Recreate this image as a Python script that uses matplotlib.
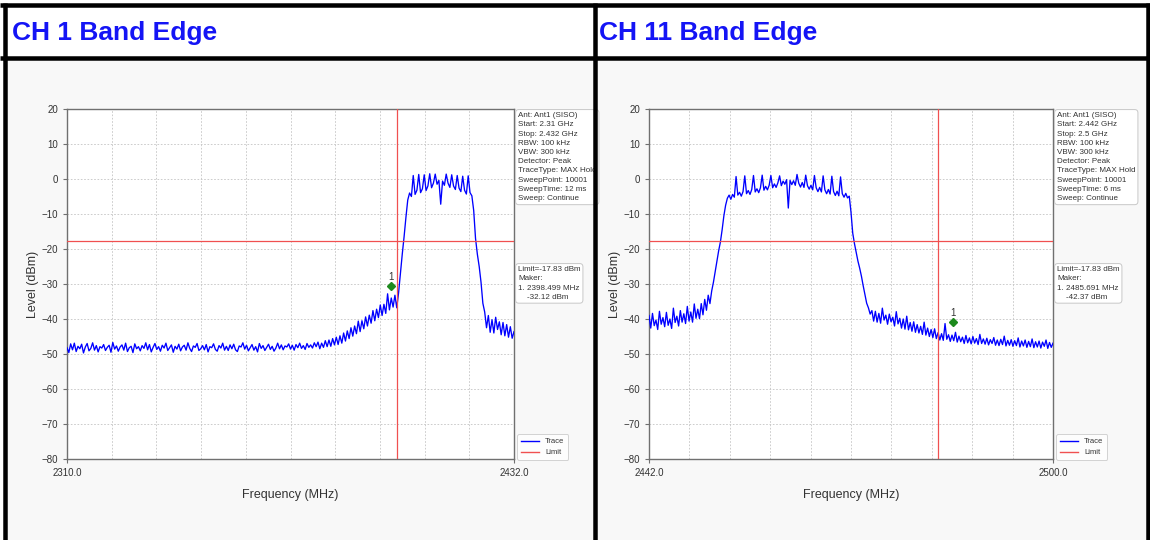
import numpy as np
import matplotlib

matplotlib.use("Agg")
import matplotlib.pyplot as plt
import matplotlib.transforms as mtransforms
from matplotlib.lines import Line2D
from matplotlib.patches import Rectangle

plt.rcParams["font.family"] = ["Liberation Sans", "DejaVu Sans"]

W, H = 1150, 540
BLUE = "#0000ff"
RED = "#f05050"
TXT = "#333333"
GRID = "#c4c4c4"
SPINE = "#707070"

# ---- CH 1 sweep (2310 - 2432 MHz), trace levels in dBm read every 0.5 MHz ----
CH1_START, CH1_STOP = 2310.0, 2432.0
CH1_LEVEL = [
    # noise floor 2310 - 2378
    -48.2, -49.6, -47.1, -48.8, -46.9, -49.3, -47.8, -48.5, -47.2, -49.7,
    -48.0, -47.0, -49.1, -48.4, -46.8, -48.9, -47.6, -49.4, -47.9, -48.3,
    -47.3, -49.0, -48.1, -47.5, -49.5, -46.7, -48.6, -47.7, -49.2, -48.0,
    -47.4, -48.9, -46.9, -49.3, -48.2, -47.8, -49.6, -47.1, -48.5, -47.9,
    -49.1, -47.6, -48.4, -46.8, -48.8, -47.3, -49.4, -48.1, -47.0, -48.7,
    -47.9, -49.2, -47.5, -48.3, -46.9, -49.0, -48.2, -47.4, -49.5, -47.8,
    -48.6, -47.2, -49.1, -48.0, -47.5, -48.9, -46.8, -48.4, -49.3, -47.7,
    -48.1, -47.0, -49.0, -48.5, -47.6, -48.8, -47.3, -49.4, -47.9, -48.2,
    -47.1, -48.7, -49.2, -47.6, -48.3, -46.9, -48.9, -47.8, -49.0, -47.4,
    -48.5, -47.2, -48.8, -49.3, -47.7, -48.0, -46.8, -48.6, -47.5, -49.1,
    -48.2, -47.3, -48.9, -47.9, -49.4, -47.0, -48.4, -47.6, -49.0, -48.1,
    -47.2, -48.7, -47.8, -49.2, -48.3, -46.9, -48.5, -47.4, -48.8, -47.7,
    -48.0, -47.1, -48.6, -47.5, -48.9, -47.3, -48.2, -46.9, -48.4, -47.6,
    -48.7, -47.0, -48.1, -47.4, -48.3, -46.8, -47.9,
    # skirt rising towards 2400
    -46.6, -48.5, -46.9, -48.1, -46.2, -47.9, -46.0, -47.8, -45.6, -47.4, -45.2, -47.3,
    -44.8, -46.9, -44.0, -46.3, -43.4, -45.6, -42.5, -44.9, -42.0, -44.2, -40.6, -43.6,
    -40.5, -42.8, -39.4, -42.0, -38.9, -41.2, -37.6, -40.5, -37.2, -39.6, -36.0, -39.0,
    -35.8, -38.4, -32.8, -37.4, -34.0, -36.6, -33.2, -36.8, -32.5, -27.0, -21.5, -16.5,
    -11.0, -6.0,
    # in-band
    -4.0, -5.0, 1.0, -4.4, -3.2, 1.3, -3.9, -2.8, 1.2, -3.3, -2.0, 1.5,
    -2.5, -1.2, 1.4, -1.5, -0.4, -7.2, -0.6, -1.8, 1.4, -1.2, -2.4, 1.2,
    -2.0, -3.0, 1.0, -2.6, -3.6, 0.8, -3.2, -4.3, 0.9, -3.9, -4.8,
    # upper skirt
    -9.0, -17.0, -21.5, -25.0, -29.5, -35.5, -38.0, -42.5, -39.0, -43.8, -40.2, -44.0,
    -39.5, -43.0, -40.8, -44.5, -41.0, -44.8, -41.6, -45.2, -42.2, -45.5, -43.6,
]

# ---- CH 11 sweep (2442 - 2500 MHz), trace levels in dBm read every 0.25 MHz ----
CH11_START, CH11_STOP = 2442.0, 2500.0
CH11_LEVEL = [
    # lower skirt
    -39.0, -42.6, -38.4, -41.9, -40.3, -43.0, -37.8, -41.5, -39.6, -42.2,
    -38.1, -41.8, -40.0, -42.7, -36.9, -41.0, -39.2, -42.0, -37.6, -40.9,
    -38.5, -41.3, -36.4, -40.6, -38.0, -40.9, -35.7, -39.8, -37.2, -39.9,
    -35.6, -38.8, -34.4, -37.5, -33.2, -35.6,
    -32.0, -29.5, -26.5, -23.5, -20.5, -18.0, -14.5, -10.5, -7.5, -5.5,
    # in-band
    -4.6, -5.8, -4.4, -5.2, 0.7, -4.6, -3.8, -4.9, -3.6, 0.9,
    -4.2, -3.3, -4.4, -3.0, 1.0, -3.7, -2.8, -3.9, -2.5, 1.1,
    -3.2, -2.1, -3.1, -1.8, 1.0, -2.5, -1.4, -2.4, -1.1, 0.9,
    -1.9, -0.6, -1.5, -0.2, -8.3, -0.4, -1.6, -0.5, -1.8, 1.3,
    -1.2, -2.3, -1.0, -2.4, 1.1, -1.9, -2.9, -1.8, -3.1, 1.0,
    -2.5, -3.6, -2.4, -3.7, 0.9, -3.1, -4.2, -3.0, -4.3, 0.8,
    -3.6, -4.7, -3.5, -4.8, 0.6, -4.2, -5.2, -4.1, -5.4, -4.9,
    # upper skirt and floor
    -9.5, -15.5, -18.5, -21.0, -23.5, -25.5, -27.8, -30.5, -33.0, -35.5,
    -36.8, -38.6, -37.6,
    -40.6, -37.8, -40.9, -38.4, -41.2, -36.9, -40.3, -38.9,
    -41.5, -38.6, -40.8, -39.5, -42.0, -37.9, -41.4, -39.8,
    -42.6, -40.0, -42.9, -39.2, -43.1, -41.0, -43.5, -40.8,
    -43.8, -41.6, -44.0, -42.1, -44.4, -40.9, -44.6, -42.6,
    -45.0, -43.0, -45.3, -42.8, -45.6, -43.9, -46.0, -44.2,
    -46.1, -41.3, -45.8, -44.5, -46.4, -44.6, -46.2, -43.8,
    -46.6, -44.9, -46.5, -45.2, -47.0, -44.7, -46.8, -45.4,
    -47.1, -45.0, -46.9, -45.6, -47.3, -44.4, -47.0, -45.7,
    -47.2, -45.5, -47.4, -45.9, -47.0, -45.3, -47.5, -46.0,
    -47.6, -45.8, -47.3, -44.9, -47.7, -46.1, -47.5, -45.9,
    -47.8, -46.2, -47.6, -45.4, -48.0, -46.3, -47.7, -46.0,
    -48.1, -46.4, -47.9, -45.7, -48.2, -46.5, -48.0, -46.3,
    -48.3, -46.6, -47.8, -46.0, -48.4, -46.7, -48.1, -46.9,
]

LIMIT_DBM = -17.83
BAND_EDGE = [2400.0, 2483.5]
MARKER_FREQ = [2398.499, 2485.691]
MARKER_LEVEL = [-32.12, -42.37]
TITLES = ["CH 1 Band Edge", "CH 11 Band Edge"]
SWEEP_TIME = ["12 ms", "6 ms"]
START_GHZ = ["2.31", "2.442"]
STOP_GHZ = ["2.432", "2.5"]


def fx(px):
    return px / W


def fy(py):
    return 1 - py / H


fig = plt.figure(figsize=(W / 100, H / 100), dpi=100)
fig.patch.set_facecolor("white")

# light grey background of the screenshot area under each header
for x0, x1 in [(7, 593), (597, 1147)]:
    fig.add_artist(Rectangle((fx(x0), 0), fx(x1 - x0), fy(60), transform=fig.transFigure,
                             facecolor="#f8f8f8", edgecolor="none", zorder=0))

panels = [
    (TITLES[0], 12, 67, 447, CH1_START, CH1_STOP, CH1_LEVEL),
    (TITLES[1], 599, 649, 404, CH11_START, CH11_STOP, CH11_LEVEL),
]

for i, (title, tx, left, width, f0, f1, level) in enumerate(panels):
    fig.text(fx(tx), fy(33), title, fontsize=19, fontweight="bold", color="#1414f5",
             va="center", ha="left")

    ax = fig.add_axes([fx(left), fy(459), fx(width), 350 / H])
    ax.set_facecolor("white")
    freq = np.linspace(f0, f1, len(level))
    ax.plot(freq, level, color=BLUE, lw=0.95, label="Trace", zorder=3)
    ax.axhline(LIMIT_DBM, color=RED, lw=0.9, label="Limit", zorder=4)
    ax.axvline(BAND_EDGE[i], color=RED, lw=0.9, zorder=4)

    # marker drawn just above the reading
    up = mtransforms.offset_copy(ax.transData, fig=fig, y=5, units="dots")
    ax.plot([MARKER_FREQ[i]], [MARKER_LEVEL[i]], marker="D", ms=4.5, color="#1d8a1d",
            transform=up, zorder=5, clip_on=False)
    lab = mtransforms.offset_copy(ax.transData, fig=fig, y=14, units="dots")
    ax.text(MARKER_FREQ[i], MARKER_LEVEL[i], "1", transform=lab, fontsize=7, color=TXT,
            ha="center", va="center", zorder=5)

    ax.set_xlim(f0, f1)
    ax.set_ylim(-80, 20)
    ax.set_xticks([f0, f1])
    ax.set_xticklabels([f"{f0:.1f}", f"{f1:.1f}"])
    ax.set_xticks(np.linspace(f0, f1, 11)[1:-1], minor=True)
    ax.set_yticks(np.arange(-80, 21, 10))
    ax.tick_params(axis="both", which="major", labelsize=7, length=3, color=SPINE,
                   labelcolor=TXT)
    ax.tick_params(axis="x", which="minor", length=0)
    ax.grid(True, which="both", color=GRID, lw=0.6, ls=(0, (2, 2)))
    for s in ax.spines.values():
        s.set_color(SPINE)
        s.set_linewidth(1.0)
    ax.set_xlabel("Frequency (MHz)", fontsize=9, color=TXT, labelpad=8)
    ax.set_ylabel("Level (dBm)", fontsize=9, color=TXT, labelpad=2)

    box = dict(boxstyle="round,pad=0.3,rounding_size=0.4", facecolor="white",
               edgecolor="#c8c8c8", lw=0.7)
    info = "\n".join([
        "Ant: Ant1 (SISO)",
        f"Start: {START_GHZ[i]} GHz",
        f"Stop: {STOP_GHZ[i]} GHz",
        "RBW: 100 kHz",
        "VBW: 300 kHz",
        "Detector: Peak",
        "TraceType: MAX Hold",
        "SweepPoint: 10001",
        f"SweepTime: {SWEEP_TIME[i]}",
        "Sweep: Continue",
    ])
    bx = left + width + 4
    fig.text(fx(bx), fy(112), info, fontsize=5.8, color=TXT, va="top", ha="left",
             linespacing=1.45, bbox=box)
    mk = "\n".join([
        f"Limit={LIMIT_DBM:.2f} dBm",
        "Maker:",
        f"1. {MARKER_FREQ[i]:.3f} MHz",
        f"    {MARKER_LEVEL[i]:.2f} dBm",
    ])
    fig.text(fx(bx), fy(266), mk, fontsize=5.8, color=TXT, va="top", ha="left",
             linespacing=1.45, bbox=box)

    handles = [Line2D([], [], color=BLUE, lw=1.0), Line2D([], [], color=RED, lw=1.0)]
    leg = ax.legend(handles, ["Trace", "Limit"], loc="lower left",
                    bbox_to_anchor=(fx(bx - 1), fy(460)), bbox_transform=fig.transFigure,
                    fontsize=5.5, frameon=True, fancybox=True, handlelength=2.4,
                    labelspacing=0.45, borderpad=0.5, handletextpad=0.8, borderaxespad=0)
    leg.get_frame().set_edgecolor("#c8c8c8")
    leg.get_frame().set_linewidth(0.7)
    for t in leg.get_texts():
        t.set_color(TXT)

# table borders on top of everything
def border(xs, ys, lw_px):
    fig.add_artist(Line2D([fx(x) for x in xs], [fy(y) for y in ys], transform=fig.transFigure,
                          color="black", lw=lw_px * 0.72, solid_capstyle="butt", zorder=20))


border([0, W], [5.3, 5.3], 4.5)
border([0, W], [58.2, 58.2], 4.5)
border([5, 5], [3, H], 4.5)
border([594.5, 594.5], [3, H], 4.5)
border([1148, 1148], [3, H], 4.5)

fig.savefig("out.png", dpi=100, facecolor="white")
